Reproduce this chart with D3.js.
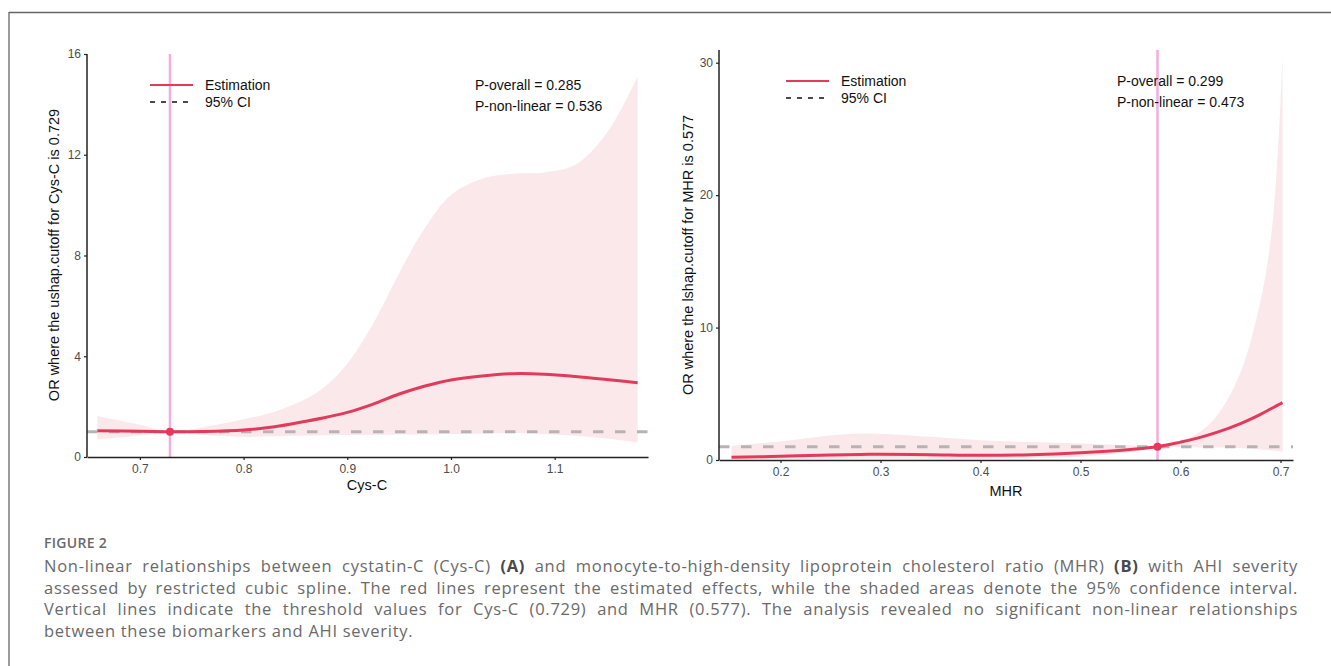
<!DOCTYPE html>
<html>
<head>
<meta charset="utf-8">
<script src="https://cdn.jsdelivr.net/npm/d3@7"></script>
<style>
  html, body { margin: 0; padding: 0; background: #fff; }
  #wrap { position: relative; width: 1331px; height: 666px; overflow: hidden; }
  svg { position: absolute; left: 0; top: 0; }
  #caption { position: absolute; left: 44px; top: 533px; width: 1254px; font-family: "Open Sans", sans-serif; color: #6a6a6a; }
  #caption .fig { font-size: 14px; font-weight: 600; letter-spacing: 0.3px; line-height: 20px; }
  #caption .ln { font-size: 16.5px; line-height: 21.7px; letter-spacing: 0.72px; white-space: nowrap; }
  #caption .j { text-align: justify; text-align-last: justify; }
  #caption .first { margin-top: 2px; }
  #caption b { color: #4a4a4a; }
</style>
</head>
<body>
<div id="wrap">
<svg id="chart" width="1331" height="666"></svg>
<div id="caption">
  <div class="fig">FIGURE 2</div>
  <div class="ln j first">Non-linear relationships between cystatin-C (Cys-C) <b>(A)</b> and monocyte-to-high-density lipoprotein cholesterol ratio (MHR) <b>(B)</b> with AHI severity</div>
  <div class="ln j">assessed by restricted cubic spline. The red lines represent the estimated effects, while the shaded areas denote the 95% confidence interval.</div>
  <div class="ln j">Vertical lines indicate the threshold values for Cys-C (0.729) and MHR (0.577). The analysis revealed no significant non-linear relationships</div>
  <div class="ln">between these biomarkers and AHI severity.</div>
</div>
</div>
<script>
// ---------- Data: panel A (Cys-C) ----------
const cysX     = [0.659, 0.70, 0.729, 0.76, 0.80, 0.83, 0.86, 0.88, 0.90, 0.925, 0.95, 0.975, 1.00, 1.03, 1.06, 1.09, 1.12, 1.15, 1.18];
const cysEst   = [1.04, 1.02, 1.00, 1.01, 1.07, 1.20, 1.42, 1.58, 1.77, 2.10, 2.50, 2.82, 3.06, 3.22, 3.31, 3.29, 3.20, 3.08, 2.95];
const cysLower = [0.70, 0.85, 1.00, 0.88, 0.80, 0.82, 0.85, 0.86, 0.87, 0.88, 0.89, 0.90, 0.91, 0.93, 0.95, 0.91, 0.84, 0.73, 0.57];
const cysUpper = [1.63, 1.28, 1.00, 1.18, 1.50, 1.80, 2.30, 2.85, 3.70, 5.30, 7.30, 9.10, 10.40, 11.05, 11.25, 11.30, 11.60, 12.85, 15.10];
const cysXTicks = [0.7, 0.8, 0.9, 1.0, 1.1];
const cysYTicks = [0, 4, 8, 12, 16];
const cysCut = 0.729;

// ---------- Data: panel B (MHR) ----------
const mhrX     = [0.151, 0.20, 0.25, 0.28, 0.30, 0.35, 0.40, 0.45, 0.50, 0.55, 0.577, 0.60, 0.617, 0.637, 0.66, 0.68, 0.69, 0.695, 0.70, 0.702];
const mhrEst   = [0.20, 0.28, 0.38, 0.42, 0.43, 0.40, 0.36, 0.40, 0.55, 0.80, 1.00, 1.35, 1.65, 2.10, 2.75, 3.45, 3.85, 4.05, 4.25, 4.33];
const mhrLower = [0.05, 0.07, 0.09, 0.10, 0.10, 0.10, 0.10, 0.15, 0.25, 0.60, 1.00, 0.99, 0.97, 0.94, 0.88, 0.80, 0.74, 0.70, 0.65, 0.63];
const mhrUpper = [1.06, 1.40, 1.85, 2.00, 1.98, 1.75, 1.50, 1.35, 1.25, 1.10, 1.00, 1.45, 2.00, 3.40, 6.60, 12.00, 16.50, 20.50, 27.00, 30.60];
const mhrXTicks = [0.2, 0.3, 0.4, 0.5, 0.6, 0.7];
const mhrYTicks = [0, 10, 20, 30];
const mhrCut = 0.577;

const svg = d3.select("#chart");
const RED = "#e23a5b", FILL = "#fae8ea", VLINE = "#f2aedd", REFD = "#b9b2b5";

// frame lines
svg.append("line").attr("x1", 9).attr("x2", 1331).attr("y1", 12.5).attr("y2", 12.5).attr("stroke", "#666").attr("stroke-width", 1.3);
svg.append("line").attr("x1", 9).attr("x2", 9).attr("y1", 12).attr("y2", 666).attr("stroke", "#666").attr("stroke-width", 1.3);

function panel(cfg) {
  const g = svg.append("g");
  const x = d3.scaleLinear().domain(cfg.xDomain).range(cfg.xRange);
  const y = d3.scaleLinear().domain(cfg.yDomain).range(cfg.yRange);
  const rows = cfg.xs.map((v, i) => ({x: v, est: cfg.est[i], lo: cfg.lo[i], hi: cfg.hi[i]}));
  const curve = d3.curveCatmullRom.alpha(0.5);

  g.append("path").datum(rows)
    .attr("d", d3.area().x(d => x(d.x)).y0(d => y(d.lo)).y1(d => y(d.hi)).curve(curve))
    .attr("fill", FILL);

  // reference line OR = 1
  g.append("line").attr("x1", cfg.xRange[0]).attr("x2", cfg.xRange[1])
    .attr("y1", y(1)).attr("y2", y(1))
    .attr("stroke", REFD).attr("stroke-width", 3).attr("stroke-dasharray", "10.5,11.5");

  // cutoff vertical line
  g.append("line").attr("x1", x(cfg.cut)).attr("x2", x(cfg.cut))
    .attr("y1", cfg.yRange[0]).attr("y2", cfg.yRange[1])
    .attr("stroke", VLINE).attr("stroke-width", 2.5);

  g.append("path").datum(rows)
    .attr("d", d3.line().x(d => x(d.x)).y(d => y(d.est)).curve(curve))
    .attr("fill", "none").attr("stroke", RED).attr("stroke-width", 3);

  g.append("circle").attr("cx", x(cfg.cut)).attr("cy", y(1)).attr("r", 4).attr("fill", RED);

  // axes
  const xa = g.append("g").attr("transform", `translate(0,${cfg.yRange[0]})`)
    .call(d3.axisBottom(x).tickValues(cfg.xTicks).tickFormat(d3.format(".1f")).tickSizeOuter(0).tickSizeInner(3).tickPadding(4));
  const ya = g.append("g").attr("transform", `translate(${cfg.xRange[0]},0)`)
    .call(d3.axisLeft(y).tickValues(cfg.yTicks).tickFormat(d3.format("d")).tickSizeOuter(0).tickSizeInner(3).tickPadding(3));
  [xa, ya].forEach(a => {
    a.attr("font-size", 12).attr("font-family", "'Liberation Sans', Arial, sans-serif");
    a.select(".domain").attr("stroke", "#222").attr("stroke-width", 1.5);
    a.selectAll(".tick line").attr("stroke", "#222").attr("stroke-width", 1.2);
    a.selectAll(".tick text").attr("fill", "#4d4d4d").style("font-size", "12px");
  });
  ya.select(".domain").attr("d", `M0,${cfg.yRange[0]}V${cfg.yRange[1]}`);

  const font = "'Liberation Sans', Arial, sans-serif";
  g.append("text").attr("x", cfg.xTitle[0]).attr("y", cfg.xTitle[1]).attr("text-anchor", "middle")
    .style("font-family", font).style("font-size", "14.5px").attr("fill", "#111").text(cfg.xLabel);
  g.append("text").attr("transform", `translate(${cfg.yTitle[0]},${cfg.yTitle[1]}) rotate(-90)`).attr("text-anchor", "middle")
    .style("font-family", font).style("font-size", "14.5px").attr("fill", "#111").text(cfg.yLabel);

  // legend
  const L = cfg.legend;
  g.append("line").attr("x1", L[0]).attr("x2", L[0] + 43).attr("y1", L[1]).attr("y2", L[1]).attr("stroke", RED).attr("stroke-width", 2);
  g.append("line").attr("x1", L[0]).attr("x2", L[0] + 40).attr("y1", L[1] + 17).attr("y2", L[1] + 17)
    .attr("stroke", "#111").attr("stroke-width", 1.3).attr("stroke-dasharray", "5,6");
  g.append("text").attr("x", L[0] + 55).attr("y", L[1] + 5).style("font-family", font).style("font-size", "14px").attr("fill", "#111").text("Estimation");
  g.append("text").attr("x", L[0] + 55).attr("y", L[1] + 22).style("font-family", font).style("font-size", "14px").attr("fill", "#111").text("95% CI");

  g.append("text").attr("x", cfg.ptext[0]).attr("y", cfg.ptext[1]).style("font-family", font).style("font-size", "14px").attr("fill", "#111").text(cfg.p1);
  g.append("text").attr("x", cfg.ptext[0]).attr("y", cfg.ptext[1] + 21).style("font-family", font).style("font-size", "14px").attr("fill", "#111").text(cfg.p2);
}

panel({
  xs: cysX, est: cysEst, lo: cysLower, hi: cysUpper, cut: cysCut,
  xDomain: [0.649, 1.19], xRange: [87, 648], yDomain: [0, 16], yRange: [457, 54],
  xTicks: cysXTicks, yTicks: cysYTicks,
  xLabel: "Cys-C", yLabel: "OR where the ushap.cutoff for Cys-C is 0.729",
  xTitle: [367, 490], yTitle: [59, 255],
  legend: [150, 85], ptext: [475, 90], p1: "P-overall = 0.285", p2: "P-non-linear = 0.536"
});

panel({
  xs: mhrX, est: mhrEst, lo: mhrLower, hi: mhrUpper, cut: mhrCut,
  xDomain: [0.1385, 0.7125], xRange: [719, 1293], yDomain: [0, 30.96], yRange: [460, 50],
  xTicks: mhrXTicks, yTicks: mhrYTicks,
  xLabel: "MHR", yLabel: "OR where the lshap.cutoff for MHR is 0.577",
  xTitle: [1006, 496], yTitle: [693, 255],
  legend: [786, 81], ptext: [1117, 86], p1: "P-overall = 0.299", p2: "P-non-linear = 0.473"
});
</script>
</body>
</html>
